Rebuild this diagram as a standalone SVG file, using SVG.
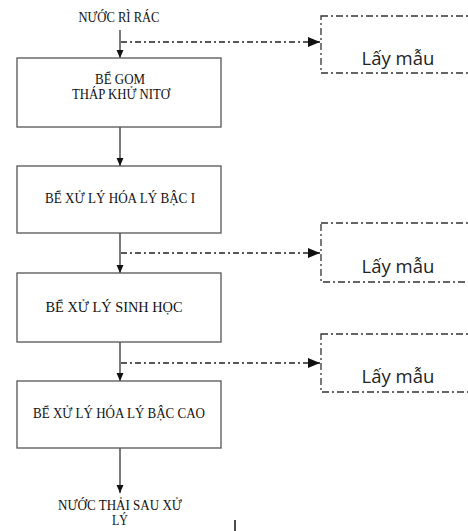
<svg xmlns="http://www.w3.org/2000/svg" width="468" height="531" viewBox="0 0 468 531">
<style>
.box{fill:#fff;stroke:#555;stroke-width:1.3}
.samp{fill:#fff;stroke:#333;stroke-width:1.3;stroke-dasharray:7,3,2,3}
.t{font-family:"Liberation Serif","Times New Roman",serif;font-size:14px;fill:#111;text-anchor:middle}
.s{font-family:"Open Sans","Noto Sans",sans-serif;font-size:18.5px;fill:#222;text-anchor:middle}
.flow{stroke:#333;stroke-width:1.3;fill:none}
.dash{stroke:#222;stroke-width:1.3;fill:none;stroke-dasharray:6,3,2,3}
</style>
<defs>
<marker id="ah" markerWidth="8" markerHeight="8" refX="8" refY="4" orient="auto" markerUnits="userSpaceOnUse">
<path d="M0,0.5 L8,4 L0,7.5 Z" fill="#111"/>
</marker>
<marker id="ah2" markerWidth="12" markerHeight="10" refX="12" refY="5" orient="auto" markerUnits="userSpaceOnUse">
<path d="M0,0 L12,5 L0,10 Z" fill="#111"/>
</marker>
</defs>
<rect width="468" height="531" fill="#fff"/>
<g id="connectors">
<line class="flow" x1="120" y1="30" x2="120" y2="58" marker-end="url(#ah)"/>
<line class="flow" x1="120" y1="127" x2="120" y2="166" marker-end="url(#ah)"/>
<line class="flow" x1="120" y1="233" x2="120" y2="273" marker-end="url(#ah)"/>
<line class="flow" x1="120" y1="342" x2="120" y2="381" marker-end="url(#ah)"/>
<line class="flow" x1="120" y1="448" x2="120" y2="493" marker-end="url(#ah)"/>
<line class="dash" x1="121" y1="42" x2="320" y2="42" marker-end="url(#ah2)"/>
<line class="dash" x1="121" y1="253" x2="320" y2="253" marker-end="url(#ah2)"/>
<line class="dash" x1="121" y1="363" x2="320" y2="363" marker-end="url(#ah2)"/>
</g>
<g id="input"><text class="t" x="119" y="22" textLength="81" lengthAdjust="spacingAndGlyphs">NƯỚC RÌ RÁC</text></g>
<g id="be-gom">
<rect class="box" x="17" y="58" width="204" height="69"/>
<text class="t" x="120" y="84" textLength="50" lengthAdjust="spacingAndGlyphs">BỂ GOM</text>
<text class="t" x="121" y="99" textLength="98" lengthAdjust="spacingAndGlyphs">THÁP KHỬ NITƠ</text>
</g>
<g id="hoa-ly-1">
<rect class="box" x="17" y="166" width="204" height="67"/>
<text class="t" x="120" y="203" textLength="150" lengthAdjust="spacingAndGlyphs">BỂ XỬ LÝ HÓA LÝ BẬC I</text>
</g>
<g id="sinh-hoc">
<rect class="box" x="17" y="273" width="204" height="69"/>
<text class="t" x="114" y="312" textLength="137" lengthAdjust="spacingAndGlyphs">BỂ XỬ LÝ SINH HỌC</text>
</g>
<g id="hoa-ly-cao">
<rect class="box" x="17" y="381" width="204" height="67"/>
<text class="t" x="119" y="418" textLength="172" lengthAdjust="spacingAndGlyphs">BỂ XỬ LÝ HÓA LÝ BẬC CAO</text>
</g>
<g id="output">
<text class="t" x="120" y="510" textLength="124" lengthAdjust="spacingAndGlyphs">NƯỚC THẢI SAU XỬ</text>
<text class="t" x="120" y="525" textLength="16" lengthAdjust="spacingAndGlyphs">LÝ</text>
</g>
<g id="sample-1">
<rect class="samp" x="321" y="16" width="170" height="57"/>
<text class="s" x="398" y="65">Lấy mẫu</text>
</g>
<g id="sample-2">
<rect class="samp" x="321" y="223" width="170" height="59"/>
<text class="s" x="398" y="273">Lấy mẫu</text>
</g>
<g id="sample-3">
<rect class="samp" x="321" y="334" width="170" height="58"/>
<text class="s" x="398" y="383">Lấy mẫu</text>
</g>
<line x1="235" y1="520" x2="235" y2="531" stroke="#111" stroke-width="1.5"/>
</svg>
